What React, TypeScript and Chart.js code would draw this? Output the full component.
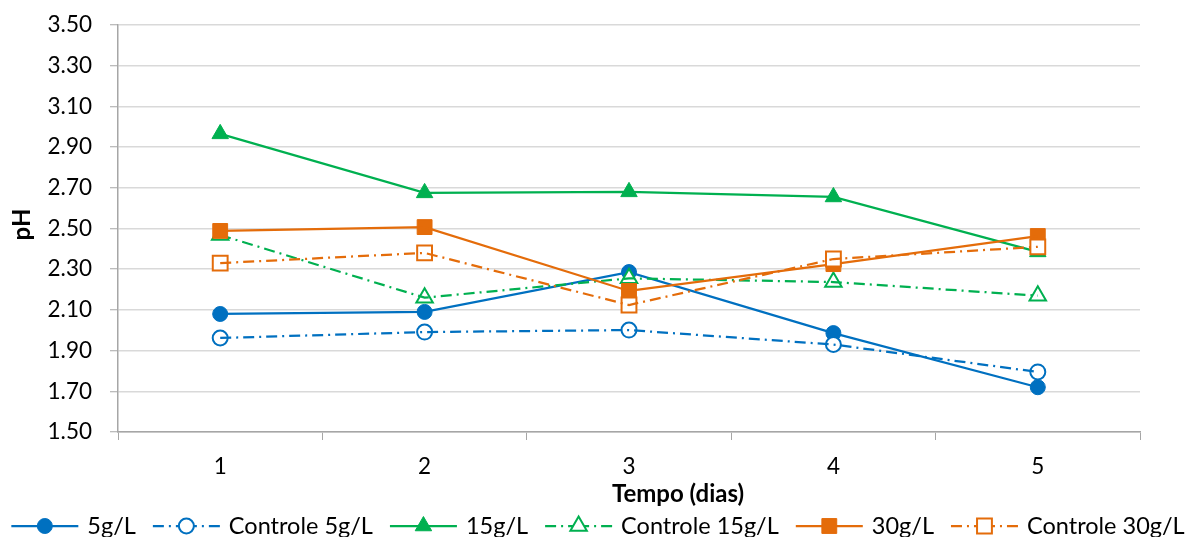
import React, { useEffect, useRef } from 'react';
import { Chart, registerables } from 'chart.js';

Chart.register(...registerables);

const days = ['1', '2', '3', '4', '5'];
const series5 = [2.08, 2.09, 2.286, 1.986, 1.72];
const control5 = [1.962, 1.991, 2.001, 1.93, 1.795];
const series15 = [2.965, 2.675, 2.68, 2.655, 2.385];
const control15 = [2.468, 2.16, 2.255, 2.237, 2.17];
const series30 = [2.488, 2.507, 2.193, 2.325, 2.463];
const control30 = [2.33, 2.38, 2.124, 2.35, 2.41];
const seriesLabels = ['5g/L', 'Controle 5g/L', '15g/L', 'Controle 15g/L', '30g/L', 'Controle 30g/L'];
const yMin = 1.5;
const yMax = 3.5;
const yStep = 0.2;
const xTitle = 'Tempo (dias)';
const yTitle = 'pH';

const BLUE = '#0070C0';
const GREEN = '#00B050';
const ORANGE = '#E46C0A';
const DASH = [11, 5, 2, 5];
const FONT = 'Lato';

type Shape = 'circle' | 'triangle' | 'rect';
type Spec = { label: string; data: number[]; color: string; dashed: boolean; shape: Shape; filled: boolean };

const specs: Spec[] = [
  { label: seriesLabels[0], data: series5, color: BLUE, dashed: false, shape: 'circle', filled: true },
  { label: seriesLabels[1], data: control5, color: BLUE, dashed: true, shape: 'circle', filled: false },
  { label: seriesLabels[2], data: series15, color: GREEN, dashed: false, shape: 'triangle', filled: true },
  { label: seriesLabels[3], data: control15, color: GREEN, dashed: true, shape: 'triangle', filled: false },
  { label: seriesLabels[4], data: series30, color: ORANGE, dashed: false, shape: 'rect', filled: true },
  { label: seriesLabels[5], data: control30, color: ORANGE, dashed: true, shape: 'rect', filled: false },
];

const radiusFor = (s: Shape) => (s === 'circle' ? 7.5 : s === 'triangle' ? 9.5 : 10.5);

function drawMarker(ctx: CanvasRenderingContext2D, shape: Shape, x: number, y: number, color: string, filled: boolean) {
  const r = radiusFor(shape);
  ctx.save();
  ctx.setLineDash([]);
  ctx.beginPath();
  if (shape === 'circle') {
    ctx.arc(x, y, r, 0, Math.PI * 2);
  } else if (shape === 'triangle') {
    let rad = 0;
    ctx.moveTo(x + Math.sin(rad) * r, y - Math.cos(rad) * r);
    rad += (Math.PI * 2) / 3;
    ctx.lineTo(x + Math.sin(rad) * r, y - Math.cos(rad) * r);
    rad += (Math.PI * 2) / 3;
    ctx.lineTo(x + Math.sin(rad) * r, y - Math.cos(rad) * r);
    ctx.closePath();
  } else {
    const h = Math.SQRT1_2 * r;
    ctx.rect(x - h, y - h, 2 * h, 2 * h);
  }
  ctx.fillStyle = filled ? color : '#ffffff';
  ctx.fill();
  ctx.lineWidth = filled ? 1 : 2;
  ctx.strokeStyle = color;
  ctx.stroke();
  ctx.restore();
}

const decorPlugin = {
  id: 'decor',
  afterDraw(chart: any) {
    const ctx: CanvasRenderingContext2D = chart.ctx;
    const area = chart.chartArea;
    ctx.save();
    // axis titles
    ctx.fillStyle = '#000000';
    ctx.font = `bold 24px ${FONT}`;
    ctx.textAlign = 'center';
    ctx.textBaseline = 'middle';
    ctx.fillText(xTitle, 678, 494);
    ctx.save();
    ctx.translate(22, (area.top + area.bottom) / 2 - 4);
    ctx.rotate(-Math.PI / 2);
    ctx.fillText(yTitle, 0, 0);
    ctx.restore();

    // legend
    ctx.font = `23.5px ${FONT}`;
    const lineLen = 67;
    const gapText = 9;
    const gapItem = 17;
    const widths = specs.map((s) => ctx.measureText(s.label).width);
    const total = widths.reduce((a, w) => a + lineLen + gapText + w, 0) + gapItem * (specs.length - 1);
    let x = 598 - total / 2;
    const y = 526;
    specs.forEach((s, i) => {
      const x0 = x;
      const x1 = x + lineLen;
      const cx = (x0 + x1) / 2;
      ctx.save();
      ctx.strokeStyle = s.color;
      ctx.lineWidth = 2.25;
      ctx.lineCap = 'butt';
      ctx.setLineDash(s.dashed ? DASH : []);
      ctx.beginPath();
      ctx.moveTo(x0, y);
      ctx.lineTo(cx, y);
      ctx.stroke();
      ctx.beginPath();
      ctx.moveTo(x1, y);
      ctx.lineTo(cx, y);
      ctx.stroke();
      ctx.restore();
      drawMarker(ctx, s.shape, cx, y, s.color, s.filled);
      ctx.fillStyle = '#000000';
      ctx.textAlign = 'left';
      ctx.textBaseline = 'middle';
      ctx.fillText(s.label, x1 + gapText, y);
      x = x1 + gapText + widths[i] + gapItem;
    });
    ctx.restore();
  },
};

export default function App() {
  const canvasRef = useRef<HTMLCanvasElement | null>(null);

  useEffect(() => {
    document.body.style.margin = '0';
    const canvas = canvasRef.current;
    if (!canvas) return;

    const datasets: any[] = [];
    specs.forEach((s, i) => {
      const r = radiusFor(s.shape);
      // markers
      datasets.push({
        label: s.label + ' markers',
        data: s.data,
        showLine: false,
        borderColor: s.color,
        backgroundColor: s.color,
        pointStyle: s.shape,
        pointRadius: r,
        pointHoverRadius: r,
        pointBackgroundColor: s.filled ? s.color : '#ffffff',
        pointBorderColor: s.color,
        pointBorderWidth: s.filled ? 1 : 2,
        order: 100 - 2 * i,
      });
      // line on top of its own markers
      datasets.push({
        label: s.label,
        data: s.data,
        showLine: true,
        borderColor: s.color,
        borderWidth: 2.25,
        borderDash: s.dashed ? DASH : [],
        tension: 0,
        fill: false,
        pointRadius: 0,
        pointHoverRadius: 0,
        order: 100 - 2 * i - 1,
      });
    });

    const chart = new Chart(canvas, {
      type: 'line',
      data: { labels: days, datasets },
      options: {
        animation: false,
        responsive: true,
        maintainAspectRatio: false,
        layout: { padding: { left: 0, top: 25, right: 52, bottom: 0 } },
        plugins: { legend: { display: false }, tooltip: { enabled: false } },
        events: [],
        scales: {
          x: {
            offset: true,
            grid: {
              offset: true,
              drawOnChartArea: false,
              drawTicks: true,
              tickLength: 8,
              color: '#a6a6a6',
              lineWidth: 1,
            },
            border: { display: true, color: '#a6a6a6', width: 1.5 },
            ticks: { color: '#000000', font: { family: FONT, size: 22.5 }, padding: 13 },
            afterFit: (scale: any) => {
              scale.height = 105;
            },
          },
          y: {
            min: yMin,
            max: yMax,
            grid: {
              color: '#d9d9d9',
              lineWidth: 1.5,
              tickLength: 8,
              tickColor: '#a6a6a6',
              tickWidth: 1,
            },
            border: { display: true, color: '#a6a6a6', width: 1.5 },
            ticks: {
              stepSize: yStep,
              color: '#000000',
              font: { family: FONT, size: 22.5 },
              padding: 18,
              callback: (v: any) => Number(v).toFixed(2),
            },
            afterFit: (scale: any) => {
              scale.width = 118;
              scale.paddingTop = 0;
              scale.paddingBottom = 0;
            },
          },
        },
      },
      plugins: [decorPlugin],
    });

    return () => {
      chart.destroy();
    };
  }, []);

  return (
    <div style={{ width: 1192, height: 537, position: 'relative' }}>
      <canvas ref={canvasRef} />
    </div>
  );
}
